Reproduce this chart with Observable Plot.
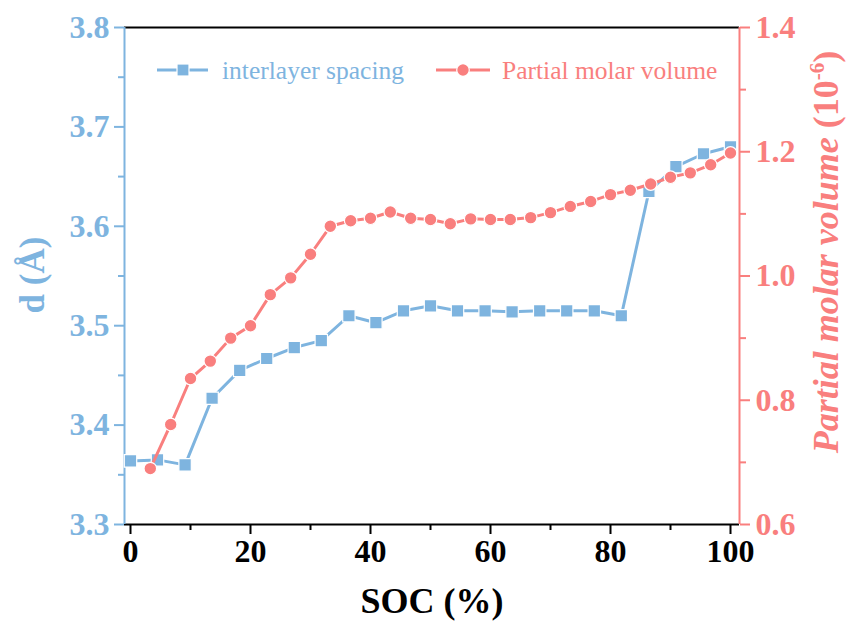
<!DOCTYPE html>
<html>
<head>
<meta charset="utf-8">
<script src="https://cdn.jsdelivr.net/npm/d3@7"></script>
<script src="https://cdn.jsdelivr.net/npm/@observablehq/plot@0.6"></script>
<style>
  html, body { margin: 0; padding: 0; background: #fff; }
  #chart { width: 846px; height: 624px; }
  svg { display: block; }
</style>
</head>
<body>
<div id="chart"></div>
<script>
// ---- data ----
const socD = [0, 4.5, 9.1, 13.6, 18.2, 22.7, 27.3, 31.8, 36.4, 40.9, 45.5, 50, 54.5, 59.1, 63.6, 68.2, 72.7, 77.3, 81.8, 86.4, 90.9, 95.5, 100];
const dValues = [3.364, 3.365, 3.360, 3.427, 3.455, 3.467, 3.478, 3.485, 3.510, 3.503, 3.515, 3.520, 3.515, 3.515, 3.514, 3.515, 3.515, 3.515, 3.510, 3.635, 3.660, 3.673, 3.680];

const socV = [3.3, 6.7, 10, 13.3, 16.7, 20, 23.3, 26.7, 30, 33.3, 36.7, 40, 43.3, 46.7, 50, 53.3, 56.7, 60, 63.3, 66.7, 70, 73.3, 76.7, 80, 83.3, 86.7, 90, 93.3, 96.7, 100];
const pmvValues = [0.690, 0.761, 0.835, 0.863, 0.900, 0.920, 0.970, 0.997, 1.035, 1.080, 1.089, 1.093, 1.103, 1.093, 1.091, 1.084, 1.092, 1.091, 1.091, 1.094, 1.102, 1.112, 1.120, 1.131, 1.138, 1.148, 1.159, 1.166, 1.179, 1.198];

const xMajorTicks = [0, 20, 40, 60, 80, 100];
const xMinorTicks = [10, 30, 50, 70, 90];
const leftMajorTicks = [3.3, 3.4, 3.5, 3.6, 3.7, 3.8];
const leftMinorTicks = [3.35, 3.45, 3.55, 3.65, 3.75];
const rightMajorTicks = [0.6, 0.8, 1.0, 1.2, 1.4];
const rightMinorTicks = [0.7, 0.9, 1.1, 1.3];

const seriesNames = ["interlayer spacing", "Partial molar volume"];

// ---- styling ----
const blue = "#7EB4DF";
const red = "#F97F7E";
const serif = "'Liberation Serif', 'Times New Roman', serif";

// right axis (0.6–1.4) mapped onto left scale (3.3–3.8)
const leftDomain = [3.3, 3.8];
const rightDomain = [0.6, 1.4];
const k = (leftDomain[1] - leftDomain[0]) / (rightDomain[1] - rightDomain[0]);
const toLeft = v => leftDomain[0] + (v - rightDomain[0]) * k;
const toRight = y => rightDomain[0] + (y - leftDomain[0]) / k;

const dData = socD.map((s, i) => ({soc: s, d: dValues[i]}));
const pmvData = socV.map((s, i) => ({soc: s, v: pmvValues[i], y: toLeft(pmvValues[i])}));

const xDomain = [-1, 101.5];

const svg = Plot.plot({
  width: 846,
  height: 624,
  marginLeft: 124,
  marginRight: 107,
  marginTop: 27,
  marginBottom: 100,
  style: {fontFamily: serif, background: "white", overflow: "visible"},
  x: {domain: xDomain},
  y: {domain: leftDomain},
  marks: [
    // frame
    Plot.ruleY([leftDomain[1]], {stroke: "black", strokeWidth: 2}),
    // bottom axis
    Plot.axisX({ticks: xMinorTicks, tickSize: 6, tickFormat: () => "", color: "black", strokeWidth: 2, label: null}),
    Plot.axisX({ticks: xMajorTicks, tickSize: 10, tickPadding: 5, tickFormat: d => String(d),
      color: "black", strokeWidth: 2, fontSize: 32, fontWeight: "bold", fontFamily: serif, label: null}),
    Plot.ruleY([leftDomain[0]], {stroke: "black", strokeWidth: 2}),
    // left axis
    Plot.axisY({ticks: leftMinorTicks, tickSize: 6, tickFormat: () => "", color: blue, strokeWidth: 2, label: null}),
    Plot.axisY({ticks: leftMajorTicks, tickSize: 10, tickPadding: 5, tickFormat: d => d.toFixed(1),
      color: blue, strokeWidth: 2, fontSize: 32, fontWeight: "bold", fontFamily: serif, label: null}),
    Plot.ruleX([xDomain[0]], {stroke: blue, strokeWidth: 2}),
    // right axis
    Plot.axisY({anchor: "right", ticks: rightMinorTicks.map(toLeft), tickSize: 6, tickFormat: () => "", color: red, strokeWidth: 2, label: null}),
    Plot.axisY({anchor: "right", ticks: rightMajorTicks.map(toLeft), tickSize: 10, tickPadding: 6,
      tickFormat: y => toRight(y).toFixed(1),
      color: red, strokeWidth: 2, fontSize: 32, fontWeight: "bold", fontFamily: serif, label: null}),
    Plot.ruleX([xDomain[1]], {stroke: red, strokeWidth: 2}),
    // series
    Plot.line(dData, {x: "soc", y: "d", stroke: blue, strokeWidth: 3}),
    Plot.dot(dData, {x: "soc", y: "d", symbol: "square", r: 7, fill: blue, stroke: "white", strokeWidth: 1.2}),
    Plot.line(pmvData, {x: "soc", y: "y", stroke: red, strokeWidth: 3}),
    Plot.dot(pmvData, {x: "soc", y: "y", r: 6.3, fill: red, stroke: "white", strokeWidth: 1.2})
  ]
});

const s = d3.select(svg);

// x title
s.append("text")
  .attr("x", 432).attr("y", 613)
  .attr("text-anchor", "middle")
  .attr("font-family", serif).attr("font-size", 36).attr("font-weight", "bold")
  .attr("fill", "black")
  .text("SOC (%)");

// left title
s.append("text")
  .attr("transform", "translate(44,275) rotate(-90)")
  .attr("text-anchor", "middle")
  .attr("font-family", serif).attr("font-size", 35).attr("font-weight", "bold")
  .attr("fill", blue)
  .text("d (Å)");

// right title
const rt = s.append("text")
  .attr("transform", "translate(838,252) rotate(-90)")
  .attr("text-anchor", "middle")
  .attr("font-family", serif).attr("font-size", 36).attr("font-weight", "bold")
  .attr("fill", red);
rt.append("tspan").attr("font-style", "italic").text("Partial molar volume ");
rt.append("tspan").text("(10");
rt.append("tspan").attr("font-size", 21).attr("dy", -14).text("-6");
rt.append("tspan").attr("dy", 14).text(")");

// legend
const legend = s.append("g");
const items = [
  {name: seriesNames[0], color: blue, x0: 157, x1: 208, mx: 183, tx: 222, sym: "square"},
  {name: seriesNames[1], color: red, x0: 436, x1: 490, mx: 463, tx: 502, sym: "circle"}
];
items.forEach(it => {
  legend.append("line").attr("x1", it.x0).attr("x2", it.x1).attr("y1", 70).attr("y2", 70)
    .attr("stroke", it.color).attr("stroke-width", 3);
  if (it.sym === "square") {
    legend.append("rect").attr("x", it.mx - 6).attr("y", 64).attr("width", 12).attr("height", 12)
      .attr("fill", it.color).attr("stroke", "white").attr("stroke-width", 1.2);
  } else {
    legend.append("circle").attr("cx", it.mx).attr("cy", 70).attr("r", 6.3)
      .attr("fill", it.color).attr("stroke", "white").attr("stroke-width", 1.2);
  }
  legend.append("text").attr("x", it.tx).attr("y", 79)
    .attr("text-anchor", "start")
    .attr("font-family", serif).attr("font-size", 25.5).attr("fill", it.color)
    .text(it.name);
});

document.getElementById("chart").appendChild(svg);
</script>
</body>
</html>
